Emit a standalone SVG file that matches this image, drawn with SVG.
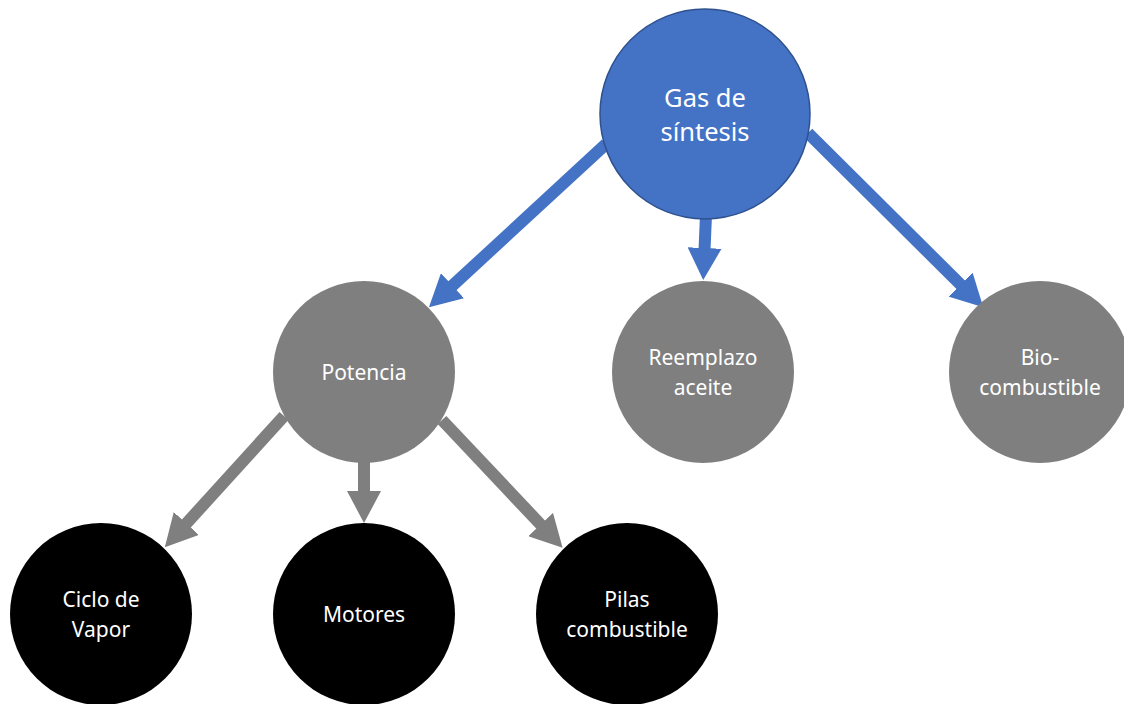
<svg xmlns="http://www.w3.org/2000/svg" width="1124" height="704" viewBox="0 0 1124 704">
<style>
.t{font-family:"Noto Sans","Open Sans","Liberation Sans",sans-serif;fill:#fff;text-anchor:middle;font-size:21px}
.big{font-size:25.5px}
.blue{stroke:#4472C4;stroke-width:12;fill:none}
.gray{stroke:#7F7F7F;stroke-width:12;fill:none}
</style>
<defs>
<marker id="ab" viewBox="0 0 32 34" refX="2" refY="17" markerWidth="32" markerHeight="34" markerUnits="userSpaceOnUse" orient="auto"><path d="M0,0 L32,17 L0,34 Z" fill="#4472C4"/></marker>
<marker id="ag" viewBox="0 0 32 34" refX="2" refY="17" markerWidth="32" markerHeight="34" markerUnits="userSpaceOnUse" orient="auto"><path d="M0,0 L32,17 L0,34 Z" fill="#7F7F7F"/></marker>
</defs>
<rect width="1124" height="704" fill="#fff"/>
<g id="connectors">
<line class="blue" x1="606" y1="144" x2="451" y2="287" marker-end="url(#ab)"/>
<line class="blue" x1="706" y1="215" x2="704.5" y2="250" marker-end="url(#ab)"/>
<line class="blue" x1="808" y1="133" x2="962" y2="286" marker-end="url(#ab)"/>
<line class="gray" x1="284" y1="416" x2="185" y2="525" marker-end="url(#ag)"/>
<line class="gray" x1="364" y1="460" x2="364" y2="493" marker-end="url(#ag)"/>
<line class="gray" x1="442" y1="420" x2="542" y2="526" marker-end="url(#ag)"/>
</g>
<g id="gas">
<circle cx="705" cy="114" r="105" fill="#4472C4" stroke="#2F528F" stroke-width="1.5"/>
<text class="t big" x="705" y="107">Gas de</text>
<text class="t big" x="705" y="141">síntesis</text>
</g>
<g id="potencia">
<circle cx="364" cy="372" r="91" fill="#7F7F7F"/>
<text class="t" x="364" y="380">Potencia</text>
</g>
<g id="reemplazo">
<circle cx="703" cy="372" r="91" fill="#7F7F7F"/>
<text class="t" x="703" y="365">Reemplazo</text>
<text class="t" x="703" y="395">aceite</text>
</g>
<g id="bio">
<circle cx="1040" cy="372" r="91" fill="#7F7F7F"/>
<text class="t" x="1040" y="365">Bio-</text>
<text class="t" x="1040" y="395">combustible</text>
</g>
<g id="ciclo">
<circle cx="101" cy="614" r="91" fill="#000"/>
<text class="t" x="101" y="607">Ciclo de</text>
<text class="t" x="101" y="637">Vapor</text>
</g>
<g id="motores">
<circle cx="364" cy="614" r="91" fill="#000"/>
<text class="t" x="364" y="622">Motores</text>
</g>
<g id="pilas">
<circle cx="627" cy="614" r="91" fill="#000"/>
<text class="t" x="627" y="607">Pilas</text>
<text class="t" x="627" y="637">combustible</text>
</g>
</svg>
